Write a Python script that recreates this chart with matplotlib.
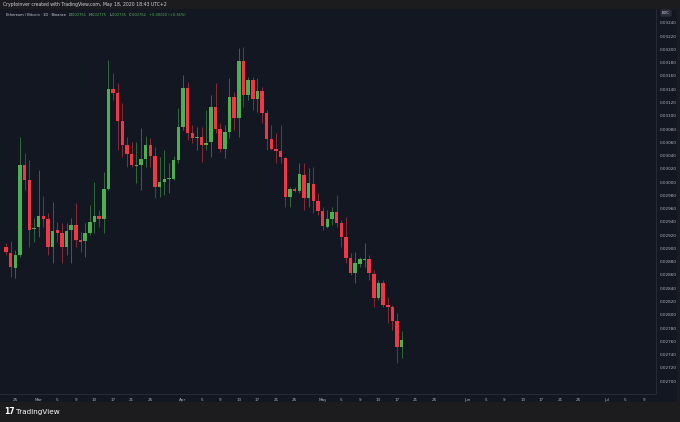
import numpy as np
import pandas as pd
import matplotlib
matplotlib.use('Agg')
import matplotlib.pyplot as plt
import matplotlib.dates as mdates
from matplotlib.patches import Rectangle

# ETH/BTC daily candles, Binance, 23 Feb - 18 May 2020
dates = pd.date_range('2020-02-23', periods=86, freq='D')
opens = [0.02902, 0.02893, 0.02871, 0.02890, 0.03026, 0.03003, 0.02929, 0.02932, 0.02949, 0.02944,
         0.02902, 0.02928, 0.02923, 0.02902, 0.02928, 0.02935, 0.02913, 0.02911, 0.02923, 0.02940,
         0.02949, 0.02944, 0.02990, 0.03141, 0.03134, 0.03092, 0.03056, 0.03042, 0.03024, 0.03026,
         0.03035, 0.03056, 0.03039, 0.02993, 0.03000, 0.03005, 0.03005, 0.03033, 0.03083, 0.03142,
         0.03074, 0.03067, 0.03068, 0.03056, 0.03061, 0.03113, 0.03080, 0.03050, 0.03076, 0.03128,
         0.03097, 0.03183, 0.03131, 0.03154, 0.03125, 0.03137, 0.03104, 0.03065, 0.03050, 0.03047,
         0.03036, 0.02978, 0.02990, 0.02987, 0.03011, 0.02976, 0.02997, 0.02972, 0.02957, 0.02932,
         0.02944, 0.02955, 0.02938, 0.02917, 0.02886, 0.02863, 0.02877, 0.02883, 0.02884, 0.02862,
         0.02825, 0.02848, 0.02815, 0.02812, 0.02791, 0.02751]
highs = [0.02908, 0.02911, 0.02898, 0.03068, 0.03044, 0.03033, 0.02946, 0.03018, 0.02979, 0.02954,
         0.02970, 0.02940, 0.02938, 0.02938, 0.02946, 0.02969, 0.02925, 0.02938, 0.02966, 0.03000,
         0.02958, 0.03015, 0.03184, 0.03165, 0.03150, 0.03119, 0.03068, 0.03061, 0.03061, 0.03082,
         0.03070, 0.03067, 0.03053, 0.03038, 0.03048, 0.03029, 0.03039, 0.03112, 0.03162, 0.03151,
         0.03086, 0.03083, 0.03083, 0.03109, 0.03131, 0.03150, 0.03089, 0.03086, 0.03157, 0.03136,
         0.03202, 0.03204, 0.03159, 0.03159, 0.03157, 0.03144, 0.03109, 0.03086, 0.03074, 0.03086,
         0.03038, 0.02993, 0.02993, 0.03029, 0.03029, 0.03021, 0.03023, 0.02984, 0.02963, 0.02958,
         0.02963, 0.02981, 0.02943, 0.02948, 0.02893, 0.02895, 0.02887, 0.02908, 0.02890, 0.02868,
         0.02852, 0.02852, 0.02827, 0.02815, 0.02803, 0.02775]
lows = [0.02890, 0.02857, 0.02855, 0.02887, 0.02988, 0.02902, 0.02910, 0.02917, 0.02932, 0.02890,
        0.02878, 0.02910, 0.02878, 0.02890, 0.02878, 0.02902, 0.02895, 0.02887, 0.02920, 0.02923,
        0.02932, 0.02923, 0.02988, 0.03124, 0.03048, 0.03038, 0.03023, 0.03023, 0.02999, 0.02988,
        0.03023, 0.03023, 0.02976, 0.02978, 0.02981, 0.02984, 0.03003, 0.03029, 0.03079, 0.03064,
        0.03059, 0.03048, 0.03030, 0.03048, 0.03038, 0.03074, 0.03045, 0.03036, 0.03067, 0.03079,
        0.03068, 0.03113, 0.03124, 0.03109, 0.03106, 0.03089, 0.03048, 0.03048, 0.03029, 0.03029,
        0.02963, 0.02963, 0.02985, 0.02984, 0.02958, 0.02963, 0.02954, 0.02951, 0.02928, 0.02931,
        0.02935, 0.02932, 0.02902, 0.02878, 0.02860, 0.02848, 0.02872, 0.02872, 0.02852, 0.02812,
        0.02822, 0.02812, 0.02788, 0.02777, 0.02727, 0.02735]
closes = [0.02895, 0.02872, 0.02890, 0.03026, 0.03003, 0.02928, 0.02931, 0.02949, 0.02944, 0.02902,
          0.02926, 0.02923, 0.02902, 0.02926, 0.02935, 0.02913, 0.02910, 0.02923, 0.02940, 0.02949,
          0.02944, 0.02990, 0.03141, 0.03134, 0.03092, 0.03056, 0.03042, 0.03026, 0.03026, 0.03035,
          0.03056, 0.03039, 0.02993, 0.03000, 0.03005, 0.03006, 0.03033, 0.03083, 0.03142, 0.03074,
          0.03067, 0.03068, 0.03056, 0.03059, 0.03113, 0.03080, 0.03050, 0.03076, 0.03128, 0.03097,
          0.03183, 0.03131, 0.03154, 0.03125, 0.03137, 0.03104, 0.03065, 0.03050, 0.03047, 0.03038,
          0.02978, 0.02990, 0.02987, 0.03012, 0.02976, 0.02999, 0.02972, 0.02957, 0.02934, 0.02944,
          0.02955, 0.02938, 0.02917, 0.02886, 0.02863, 0.02878, 0.02884, 0.02884, 0.02863, 0.02825,
          0.02848, 0.02815, 0.02812, 0.02791, 0.02751, 0.02762]

price_ticks = np.round(np.arange(0.02700, 0.032401, 0.0002), 5)
tick_dates = pd.to_datetime(['2020-02-25', '2020-03-01', '2020-03-05', '2020-03-09', '2020-03-13',
                             '2020-03-17', '2020-03-21', '2020-03-25', '2020-04-01', '2020-04-05',
                             '2020-04-09', '2020-04-13', '2020-04-17', '2020-04-21', '2020-04-25',
                             '2020-05-01', '2020-05-05', '2020-05-09', '2020-05-13', '2020-05-17',
                             '2020-05-21', '2020-05-25', '2020-06-01', '2020-06-05', '2020-06-09',
                             '2020-06-13', '2020-06-17', '2020-06-21', '2020-06-25', '2020-07-01',
                             '2020-07-05', '2020-07-09'])

NAVY = '#131722'
OUTER = '#1c1c1e'
UP = '#4caf50'
DOWN = '#f23645'
TXT = '#b2b5be'

fig = plt.figure(figsize=(6.8, 4.22), dpi=100, facecolor=OUTER)
# chart panel background (includes axis label strips)
fig.patches.append(Rectangle((0, 20/422), 677/680, 393/422, transform=fig.transFigure,
                             facecolor=NAVY, edgecolor='none', zorder=-5))

ax = fig.add_axes([0, 28/422, 656/680, 385/422])
ax.set_zorder(1)
ax.set_facecolor(NAVY)

o = np.array(opens); h = np.array(highs); l = np.array(lows); c = np.array(closes)
x = mdates.date2num(dates)
up = c >= o
cols = np.where(up, UP, DOWN)
wick_cols = np.where(up, '#2f6b3a', '#8a2b36')

ax.vlines(x, l, h, colors=wick_cols, linewidth=0.7, zorder=2)
body_lo = np.minimum(o, c)
body_h = np.maximum(np.abs(c - o), 0.000012)
ax.bar(x, body_h, bottom=body_lo, width=0.74, color=cols, edgecolor='none', zorder=3)

x0 = mdates.date2num(pd.Timestamp('2020-02-23'))
ax.set_xlim(x0 - 1.29, x0 + 139.6)
ax.set_ylim(0.026805, 0.03261)

ax.yaxis.tick_right()
ax.set_yticks(price_ticks)
ax.set_yticklabels(['%.5f' % p for p in price_ticks])
ax.tick_params(axis='y', length=0, pad=2.5, labelsize=3, labelcolor=TXT)

ax.set_xticks(mdates.date2num(tick_dates))
ax.set_xticklabels([d.strftime('%b') if d.day == 1 else str(d.day) for d in tick_dates])
ax.tick_params(axis='x', length=0, pad=3, labelsize=3, labelcolor=TXT)

for s in ['top', 'left']:
    ax.spines[s].set_visible(False)
for s in ['right', 'bottom']:
    ax.spines[s].set_color('#2a2e39')
    ax.spines[s].set_linewidth(0.6)

# BTC currency tag on the price scale
fig.text(666/680, 1 - 13/422, 'BTC', ha='center', va='center', fontsize=3, color='#d1d4dc',
         bbox=dict(boxstyle='round,pad=0.4', fc='#2a2e39', ec='none'), zorder=5)

fig.text(3/680, 1 - 4.5/422, 'Cryptoinver created with TradingView.com, May 18, 2020 18:43 UTC+2',
         ha='left', va='center', fontsize=3.3, color='#d1d4dc')

hdr_y = 1 - 14.5/422
t = fig.text(6/680, hdr_y, 'Ethereum / Bitcoin \u00b7 1D \u00b7 Binance', ha='left', va='center',
             fontsize=2.6, color='#d1d4dc', zorder=5)
fig.canvas.draw()
r = fig.canvas.get_renderer()
xpos = t.get_window_extent(r).x1 + 2.5
parts = [('O', '0.02751'), ('H', '0.02775'), ('L', '0.02735'), ('C', '0.02762'), ('', '+0.00010 (+0.36%)')]
for lab, val in parts:
    for s, col in [(lab, '#d1d4dc'), (val, UP)]:
        if not s:
            continue
        tt = fig.text(xpos / fig.bbox.width, hdr_y, s, ha='left', va='center', fontsize=2.6,
                      color=col, zorder=5)
        xpos = tt.get_window_extent(r).x1 + 0.3
    xpos += 2

fig.text(4/680, 1 - 412/422, '17', ha='left', va='center', fontsize=5.5, fontweight='bold',
         color='#ffffff')
fig.text(16/680, 1 - 412/422, 'TradingView', ha='left', va='center', fontsize=5.2,
         color='#ffffff')

fig.savefig('out.png', dpi=100, facecolor=OUTER)
